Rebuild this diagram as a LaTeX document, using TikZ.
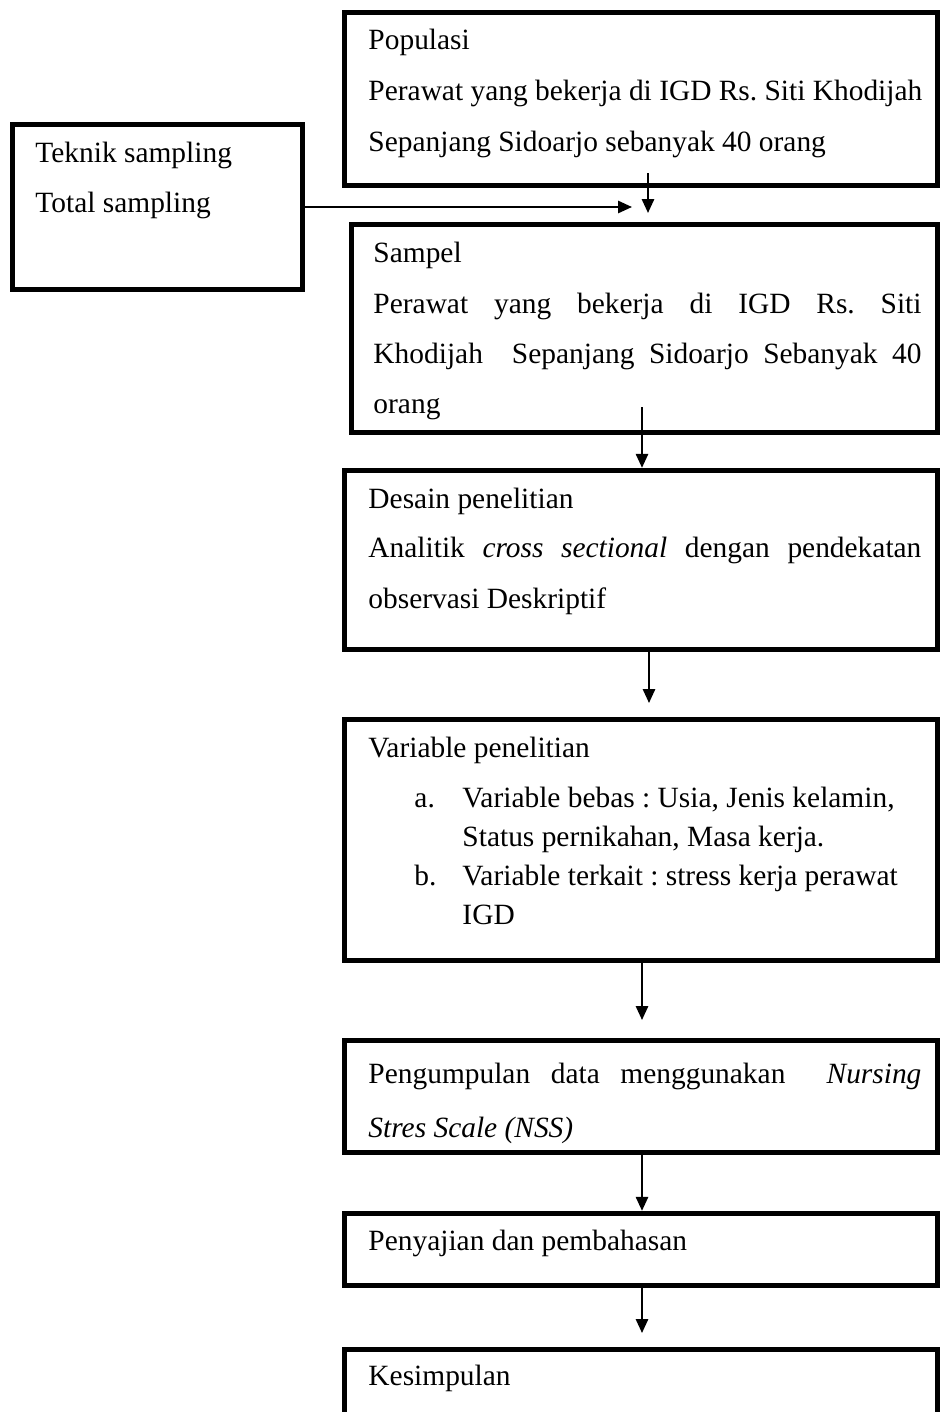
\documentclass[tikz,border=0pt]{standalone}
\usepackage{fontspec}
\setmainfont{Liberation Serif}
\usetikzlibrary{arrows.meta,fit}
\newlength\jwA \setlength\jwA{225.6pt}
\newlength\jwB \setlength\jwB{223.6pt}
\frenchspacing
\begin{document}
\begin{tikzpicture}[x=0.408pt,y=-0.408pt,
  box/.style={draw, line width=2.2pt, inner sep=0pt},
  txt/.style={anchor=base west, inner sep=0pt, font=\fontsize{12}{14}\selectfont\frenchspacing},
  arr/.style={line width=0.85pt, -{Triangle[length=5.7pt,width=5pt]}}]
\useasboundingbox (0,0) rectangle (941,1412);
\clip (0,0) rectangle (941,1412);
% boxes
\node[box, fit={(344.5,12.5) (937.5,185.5)}] (pop) {};
\node[box, fit={(12.5,124.5) (302.5,289.5)}] (tek) {};
\node[box, fit={(351.5,224.5) (937.5,432.5)}] (sam) {};
\node[box, fit={(344.5,470.5) (937.5,649.5)}] (des) {};
\node[box, fit={(344.5,719.5) (937.5,960.5)}] (var) {};
\node[box, fit={(344.5,1040.5) (937.5,1152.5)}] (peng) {};
\node[box, fit={(344.5,1213.5) (937.5,1285.5)}] (pen) {};
\node[box, fit={(344.5,1349.5) (937.5,1460)}] (kes) {};
% texts
\node[txt] (pop1) at (368,50) {Populasi};
\node[txt] (pop2) at (368,100) {Perawat yang bekerja di IGD Rs. Siti Khodijah};
\node[txt] (pop3) at (368,151) {Sepanjang Sidoarjo sebanyak 40 orang};
\node[txt] (tek1) at (35,162) {Teknik sampling};
\node[txt] (tek2) at (35,212) {Total sampling};
\node[txt] (sam1) at (373,262) {Sampel};
\node[txt] (sam2) at (373,313) {\makebox[\jwB][s]{Perawat yang bekerja di IGD Rs. Siti}};
\node[txt] (sam3) at (373,363) {\makebox[\jwB][s]{Khodijah\ \ Sepanjang Sidoarjo Sebanyak 40}};
\node[txt] (sam4) at (373,413) {orang};
\node[txt] (des1) at (368,508) {Desain penelitian};
\node[txt] (des2) at (368,557) {\makebox[\jwA][s]{Analitik \textit{cross sectional} dengan pendekatan}};
\node[txt] (des3) at (368,608) {observasi Deskriptif};
\node[txt] (var1) at (368,757) {Variable penelitian};
\node[txt] (var2a) at (414,807) {a.};
\node[txt] (var2) at (462,807) {Variable bebas : Usia, Jenis kelamin,};
\node[txt] (var3) at (462,846) {Status pernikahan, Masa kerja.};
\node[txt] (var4a) at (414,885) {b.};
\node[txt] (var4) at (462,885) {Variable terkait : stress kerja perawat};
\node[txt] (var5) at (462,924) {IGD};
\node[txt] (peng1) at (368,1083) {\makebox[\jwA][s]{Pengumpulan data menggunakan\ \ \textit{Nursing}}};
\node[txt] (peng2) at (368,1137) {\textit{Stres Scale (NSS)}};
\node[txt] (pen1) at (368,1250) {Penyajian dan pembahasan};
\node[txt] (kes1) at (368,1385) {Kesimpulan};
% connectors
\coordinate (a1s) at (648,173);
\coordinate (a1e) at (648,213);
\coordinate (a2e) at (632,207);
\coordinate (a3s) at (642,407);
\coordinate (a4e) at (649,703);
\coordinate (a5e) at (642,1020);
\coordinate (a6x) at (642,1180);
\coordinate (a7e) at (642,1333);
\draw[arr] (a1s) -- (a1e);
\draw[arr] (tek.east) -- (a2e);
\draw[arr] (a3s) -- (a3s |- des.north);
\draw[arr] (des.south -| a4e) -- (a4e);
\draw[arr] (var.south -| a5e) -- (a5e);
\draw[arr] (peng.south -| a6x) -- (pen.north -| a6x);
\draw[arr] (pen.south -| a7e) -- (a7e);
\end{tikzpicture}
\end{document}
